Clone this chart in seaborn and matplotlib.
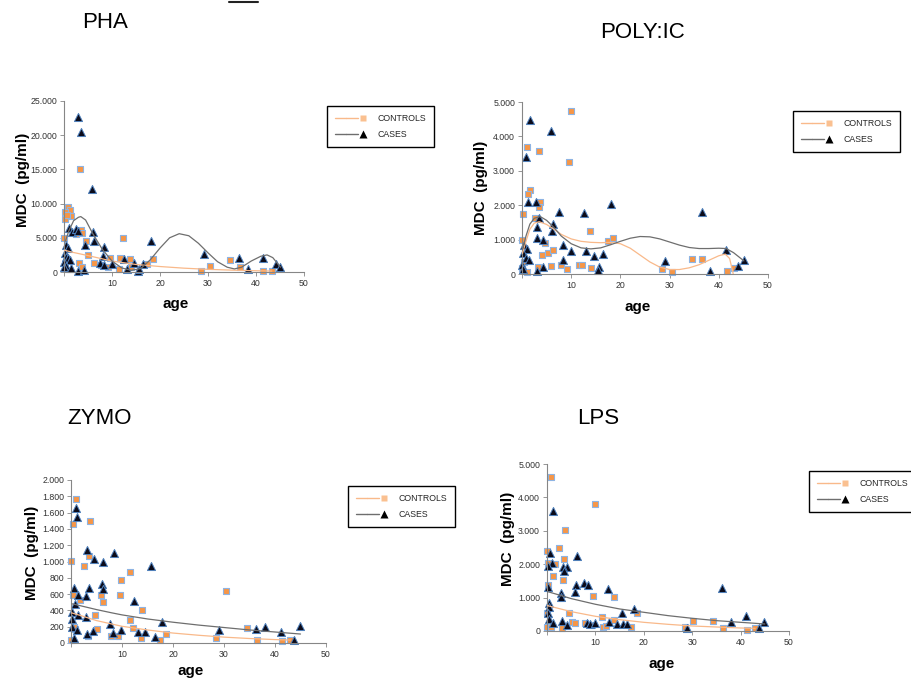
import numpy as np
import pandas as pd
import matplotlib
matplotlib.use("Agg")
import matplotlib.pyplot as plt
import seaborn as sns
from matplotlib.lines import Line2D
from matplotlib.legend_handler import HandlerTuple
from matplotlib.ticker import FuncFormatter, MultipleLocator

# ---------------- data ----------------
# PHA
pha_ctrl_age = [3.4, 0.9, 1.2, 1.5, 0.3, 0.3, 0.6, 0.0, 3.5, 3.8, 2.5, 4.6, 5.1, 6.3, 3.1, 3.8, 7.7, 9.1, 9.6,
                12.2, 11.7, 11.5, 13.8, 14.0, 17.2, 18.6, 28.5, 30.4, 34.5, 36.6, 41.5, 43.3]
pha_ctrl_val = [15000, 9500, 9000, 8200, 8800, 7700, 8400, 5000, 6200, 5700, 5500, 4600, 2500, 1300, 1300, 700,
                1000, 800, 2100, 4900, 2100, 500, 1900, 800, 1100, 1900, 150, 900, 1700, 800, 100, 100]
pha_case_age = [2.9, 3.6, 5.9, 1.0, 1.7, 2.6, 3.0, 6.1, 4.4, 6.3, 8.3, 8.2, 0.5, 0.8, 0.3, 0.4, 0.8, 1.3, 0.1,
                0.4, 0.1, 1.4, 3.0, 4.2, 7.6, 8.4, 10.0, 12.6, 13.1, 14.6, 15.5, 15.7, 16.5, 18.1, 29.2, 36.5,
                38.3, 41.5, 44.1, 45.1]
pha_case_val = [22700, 20400, 12100, 6500, 5900, 6300, 6000, 5900, 4000, 4500, 3600, 2300, 4000, 3500, 2800,
                2200, 2000, 1700, 1400, 900, 700, 600, 150, 350, 1300, 1000, 1100, 1900, 500, 1300, 200, 400,
                1200, 4500, 2700, 2100, 500, 2000, 1200, 700]
pha_ctrl_fit_age = [0, 2, 5, 10, 15, 20, 25, 30, 35, 40, 43.3]
pha_ctrl_fit_val = [3200, 2850, 2400, 1600, 1100, 800, 560, 390, 270, 185, 140]
pha_case_fit_age = [0.3, 1, 2, 3, 3.5, 4.5, 6, 8, 10, 12, 14, 16, 18, 20, 22, 24, 26, 28, 30, 32, 34, 35.5,
                    37, 39, 41, 42.3, 43.5, 45.1]
pha_case_fit_val = [4500, 6000, 7500, 8000, 8100, 7600, 5600, 3300, 1600, 600, 250, 500, 1800, 3500, 5000,
                    5600, 5300, 4200, 2800, 1500, 700, 450, 700, 1600, 2300, 2500, 2100, 700]

# POLY:IC
poly_ctrl_age = [10.0, 0.95, 3.5, 9.55, 1.6, 1.3, 3.7, 3.5, 0.3, 2.6, 13.8, 17.4, 18.5, 4.7, 4.0, 5.2, 6.2,
                 5.8, 7.9, 9.2, 11.6, 12.1, 14.0, 0.0, 0.0, 0.5, 0.95, 3.2, 28.5, 30.5, 34.5, 36.6, 41.6, 43.1]
poly_ctrl_val = [4740, 3700, 3570, 3270, 2450, 2330, 2100, 1950, 1750, 1640, 1240, 950, 1040, 900, 540, 610,
                 700, 220, 270, 140, 250, 270, 170, 1000, 170, 340, 50, 190, 150, 50, 440, 440, 100, 170]
poly_case_age = [1.6, 5.9, 0.75, 1.3, 2.85, 3.5, 3.0, 6.2, 6.0, 7.6, 12.7, 18.1, 3.0, 4.3, 8.4, 9.9, 13.0,
                 14.6, 16.5, 8.3, 0.4, 0.95, 0.3, 0.8, 1.4, 0.1, 0.3, 3.0, 4.3, 15.6, 15.5, 29.1, 36.5, 38.2,
                 41.4, 44.0, 45.1]
poly_case_val = [4490, 4160, 3390, 2080, 2100, 1640, 1380, 1460, 1250, 1800, 1770, 2040, 1040, 990, 850, 660,
                 660, 530, 580, 400, 850, 730, 600, 460, 410, 270, 150, 100, 190, 190, 130, 390, 1810, 100,
                 700, 220, 410]
poly_ctrl_fit_age = [0.1, 0.8, 1.6, 2.5, 3.5, 5, 6.5, 8, 10, 12, 14, 16, 18, 20, 22, 24, 26, 28, 30, 32, 34,
                     36, 38, 40, 41.3, 42.2, 43.1]
poly_ctrl_fit_val = [600, 950, 1300, 1480, 1520, 1440, 1300, 1150, 1020, 950, 920, 910, 920, 880, 750, 550,
                     350, 200, 130, 130, 180, 270, 400, 530, 580, 450, -100]
poly_case_fit_age = [0.1, 0.8, 1.6, 2.5, 3.7, 5, 6.5, 8, 10, 12, 14, 16, 18, 20, 22, 24, 26, 28, 30, 32, 34,
                     36, 38, 40, 41.5, 43, 44.5, 45.1]
poly_case_fit_val = [700, 1100, 1450, 1620, 1670, 1560, 1350, 1100, 880, 760, 730, 760, 850, 950, 1040, 1090,
                     1080, 1020, 930, 840, 770, 740, 740, 750, 740, 620, 450, 380]

# ZYMO
zymo_ctrl_age = [1.0, 0.3, 3.8, 0.0, 3.6, 2.6, 11.6, 9.9, 0.3, 1.8, 5.8, 6.3, 9.6, 13.9, 11.6, 4.7, 0.0, 0.8,
                 3.3, 5.0, 7.8, 9.2, 12.1, 13.7, 17.5, 18.6, 28.4, 30.3, 34.5, 36.4, 41.3, 42.9, 0.5]
zymo_ctrl_val = [1766, 1460, 1496, 1012, 1066, 945, 873, 779, 590, 525, 594, 504, 594, 405, 287, 340, 41, 176,
                 86, 176, 86, 82, 184, 61, 33, 115, 61, 635, 184, 33, 20, 33, 200]
zymo_case_age = [0.9, 1.25, 3.2, 8.5, 4.5, 6.2, 15.7, 0.65, 3.6, 6.0, 6.3, 1.45, 2.9, 12.4, 0.8, 0.1, 0.1,
                 1.45, 2.9, 17.9, 0.1, 1.25, 0.6, 3.2, 4.4, 7.6, 8.3, 9.9, 13.1, 14.5, 16.5, 29.0, 36.2, 38.0,
                 41.2, 43.8, 44.9]
zymo_case_val = [1660, 1540, 1140, 1110, 1025, 1000, 950, 670, 670, 730, 660, 590, 580, 516, 484, 380, 300,
                 348, 320, 258, 197, 156, 66, 115, 148, 230, 127, 156, 135, 135, 74, 156, 176, 197, 135, 33, 209]
zymo_ctrl_fit_age = [0.1, 2, 5, 10, 15, 20, 25, 30, 35, 40, 43]
zymo_ctrl_fit_val = [370, 335, 275, 205, 160, 122, 95, 72, 55, 42, 36]
zymo_case_fit_age = [0.2, 1, 3, 5, 8, 10, 15, 20, 25, 30, 35, 40, 45]
zymo_case_fit_val = [480, 470, 440, 410, 370, 345, 295, 255, 220, 190, 160, 135, 110]

# LPS
lps_ctrl_age = [0.8, 9.9, 3.7, 0.0, 2.5, 3.5, 1.65, 0.3, 1.2, 3.4, 0.3, 9.6, 13.8, 4.6, 0.0, 5.1, 5.8, 7.9,
                9.2, 11.4, 11.6, 12.1, 13.9, 3.2, 0.0, 0.8, 18.5, 17.3, 28.5, 30.2, 34.3, 36.4, 41.4, 43.0]
lps_ctrl_val = [4600, 3800, 3030, 2400, 2480, 2170, 2000, 2030, 1650, 1530, 1380, 1050, 1030, 530, 550, 260,
                250, 230, 180, 430, 130, 160, 330, 80, 130, 130, 530, 130, 130, 300, 310, 100, 30, 100]
lps_case_age = [1.3, 0.6, 1.0, 0.3, 6.2, 4.2, 3.4, 3.6, 7.6, 8.4, 5.9, 5.8, 12.5, 2.8, 2.8, 0.3, 0.5, 0.4, 0.3,
                0.5, 1.2, 3.0, 4.2, 8.2, 8.9, 9.9, 12.9, 14.5, 15.4, 15.6, 16.5, 18.0, 29.0, 36.2, 38.0, 41.2,
                43.9, 44.9]
lps_case_val = [3600, 2350, 2030, 1950, 2260, 1930, 1930, 1800, 1430, 1380, 1380, 1180, 1250, 1130, 1010, 1330,
                830, 730, 530, 350, 250, 300, 180, 230, 200, 250, 280, 210, 530, 210, 210, 660, 80, 1280, 280,
                460, 80, 280]
lps_ctrl_fit_age = [0.1, 2, 5, 10, 15, 20, 25, 30, 35, 40, 43]
lps_ctrl_fit_val = [760, 690, 580, 440, 340, 260, 200, 150, 120, 90, 80]
lps_case_fit_age = [0.1, 2, 5, 10, 15, 20, 25, 30, 35, 40, 45]
lps_case_fit_val = [1180, 1100, 970, 800, 660, 560, 460, 380, 310, 260, 210]

titles = ["PHA", "POLY:IC", "ZYMO", "LPS"]
legend_labels = ["CONTROLS", "CASES"]

# ---------------- style ----------------
sns.set_style("white")
plt.rcParams['font.family'] = ['Liberation Sans', 'DejaVu Sans']

ORANGE = "#F79646"
ORANGE_LIGHT = "#FAC090"
ORANGE_LINE = "#F9B98A"
NAVY = "#0B0B1A"
BLUE_EDGE = "#8EB4E3"
BLUE_EDGE2 = "#4F81BD"
GREY_LINE = "#6E6E6E"
AXIS_GREY = "#868686"

W, H = 911, 679
fig = plt.figure(figsize=(W / 100, H / 100), dpi=100)


def px_rect(x0, y0, x1, y1):
    return [x0 / W, 1 - y1 / H, (x1 - x0) / W, (y1 - y0) / H]


def thousands(v, pos):
    return f"{int(round(v)):,}".replace(",", ".")


def xfmt(v, pos):
    return "" if abs(v) < 1e-9 else f"{int(round(v))}"


panels = [
    dict(rect=px_rect(64, 101, 304, 272), title=titles[0], title_px=(105, 22),
         ca=pha_ctrl_age, cv=pha_ctrl_val, ka=pha_case_age, kv=pha_case_val,
         cfa=pha_ctrl_fit_age, cfv=pha_ctrl_fit_val, kfa=pha_case_fit_age, kfv=pha_case_fit_val,
         ymax=25000, ystep=5000, ylab=(-0.14, 0.54), xlab=(0.467, -0.146), leg=(327, 106)),
    dict(rect=px_rect(522, 102, 768, 274), title=titles[1], title_px=(642, 33),
         ca=poly_ctrl_age, cv=poly_ctrl_val, ka=poly_case_age, kv=poly_case_val,
         cfa=poly_ctrl_fit_age, cfv=poly_ctrl_fit_val, kfa=poly_case_fit_age, kfv=poly_case_fit_val,
         ymax=5000, ystep=1000, ylab=(-0.138, 0.5), xlab=(0.47, -0.151), leg=(793, 111)),
    dict(rect=px_rect(71, 480, 326, 643), title=titles[2], title_px=(99, 418),
         ca=zymo_ctrl_age, cv=zymo_ctrl_val, ka=zymo_case_age, kv=zymo_case_val,
         cfa=zymo_ctrl_fit_age, cfv=zymo_ctrl_fit_val, kfa=zymo_case_fit_age, kfv=zymo_case_fit_val,
         ymax=2000, ystep=200, ylab=(-0.125, 0.55), xlab=(0.47, -0.129), leg=(348, 486)),
    dict(rect=px_rect(547, 464, 789, 631), title=titles[3], title_px=(598, 418),
         ca=lps_ctrl_age, cv=lps_ctrl_val, ka=lps_case_age, kv=lps_case_val,
         cfa=lps_ctrl_fit_age, cfv=lps_ctrl_fit_val, kfa=lps_case_fit_age, kfv=lps_case_fit_val,
         ymax=5000, ystep=1000, ylab=(-0.133, 0.55), xlab=(0.475, -0.156), leg=(809, 471)),
]

for p in panels:
    ax = fig.add_axes(p["rect"])
    sns.scatterplot(x=p["ca"], y=p["cv"], ax=ax, marker="s", s=20, color=ORANGE,
                    edgecolor=BLUE_EDGE, linewidth=0.8, zorder=2, clip_on=False)
    sns.scatterplot(x=p["ka"], y=p["kv"], ax=ax, marker="^", s=34, color=NAVY,
                    edgecolor=BLUE_EDGE2, linewidth=0.7, zorder=2, clip_on=False)
    sns.lineplot(x=p["cfa"], y=p["cfv"], ax=ax, color=ORANGE_LINE, lw=0.9,
                 sort=False, estimator=None, zorder=3)
    sns.lineplot(x=p["kfa"], y=p["kfv"], ax=ax, color=GREY_LINE, lw=0.9,
                 sort=False, estimator=None, zorder=3)

    ax.set_xlim(0, 50)
    ax.set_ylim(0, p["ymax"])
    ax.xaxis.set_major_locator(MultipleLocator(10))
    ax.yaxis.set_major_locator(MultipleLocator(p["ystep"]))
    ax.yaxis.set_major_formatter(FuncFormatter(thousands))
    ax.xaxis.set_major_formatter(FuncFormatter(xfmt))
    for s in ["top", "right"]:
        ax.spines[s].set_visible(False)
    for s in ["left", "bottom"]:
        ax.spines[s].set_color(AXIS_GREY)
        ax.spines[s].set_linewidth(0.8)
    ax.tick_params(axis="both", which="major", bottom=True, left=True, length=3, width=0.6,
                   color=AXIS_GREY, labelsize=6.3, labelcolor="#333333", pad=2, direction="out")
    ax.set_ylabel("MDC  (pg/ml)", fontsize=11, fontweight="bold", color="black")
    ax.yaxis.set_label_coords(*p["ylab"])
    ax.set_xlabel("age", fontsize=11, fontweight="bold", color="black", va="top")
    ax.xaxis.set_label_coords(*p["xlab"])

    fig.text(p["title_px"][0] / W, 1 - p["title_px"][1] / H, p["title"], fontsize=16,
             ha="center", va="center", color="black")

    ctrl_line = Line2D([], [], color=ORANGE_LINE, lw=1)
    ctrl_mark = Line2D([], [], marker="s", ls="none", markerfacecolor=ORANGE_LIGHT,
                       markeredgecolor="none", markersize=5)
    case_line = Line2D([], [], color=GREY_LINE, lw=1)
    case_mark = Line2D([], [], marker="^", ls="none", markerfacecolor="black",
                       markeredgecolor="none", markersize=6)
    lx, ly = p["leg"]
    leg = ax.legend([(ctrl_line, ctrl_line, ctrl_mark), (case_line, case_line, case_mark)],
                    legend_labels, handler_map={tuple: HandlerTuple(ndivide=None, pad=0)},
                    loc="upper left", bbox_to_anchor=(lx / W, 1 - ly / H),
                    bbox_transform=fig.transFigure, fontsize=6.3, handlelength=3.9,
                    handletextpad=1.0, labelspacing=0.8, borderpad=0.9, borderaxespad=0,
                    frameon=True, fancybox=False, framealpha=1, edgecolor="black")
    leg.get_frame().set_linewidth(1.0)

# small dark stroke at the top of the page
fig.add_artist(Line2D([229 / W, 258 / W], [1 - 1.5 / H, 1 - 1.5 / H], color="#222222", lw=1.5,
                      transform=fig.transFigure))

fig.savefig("out.png", dpi=100)
